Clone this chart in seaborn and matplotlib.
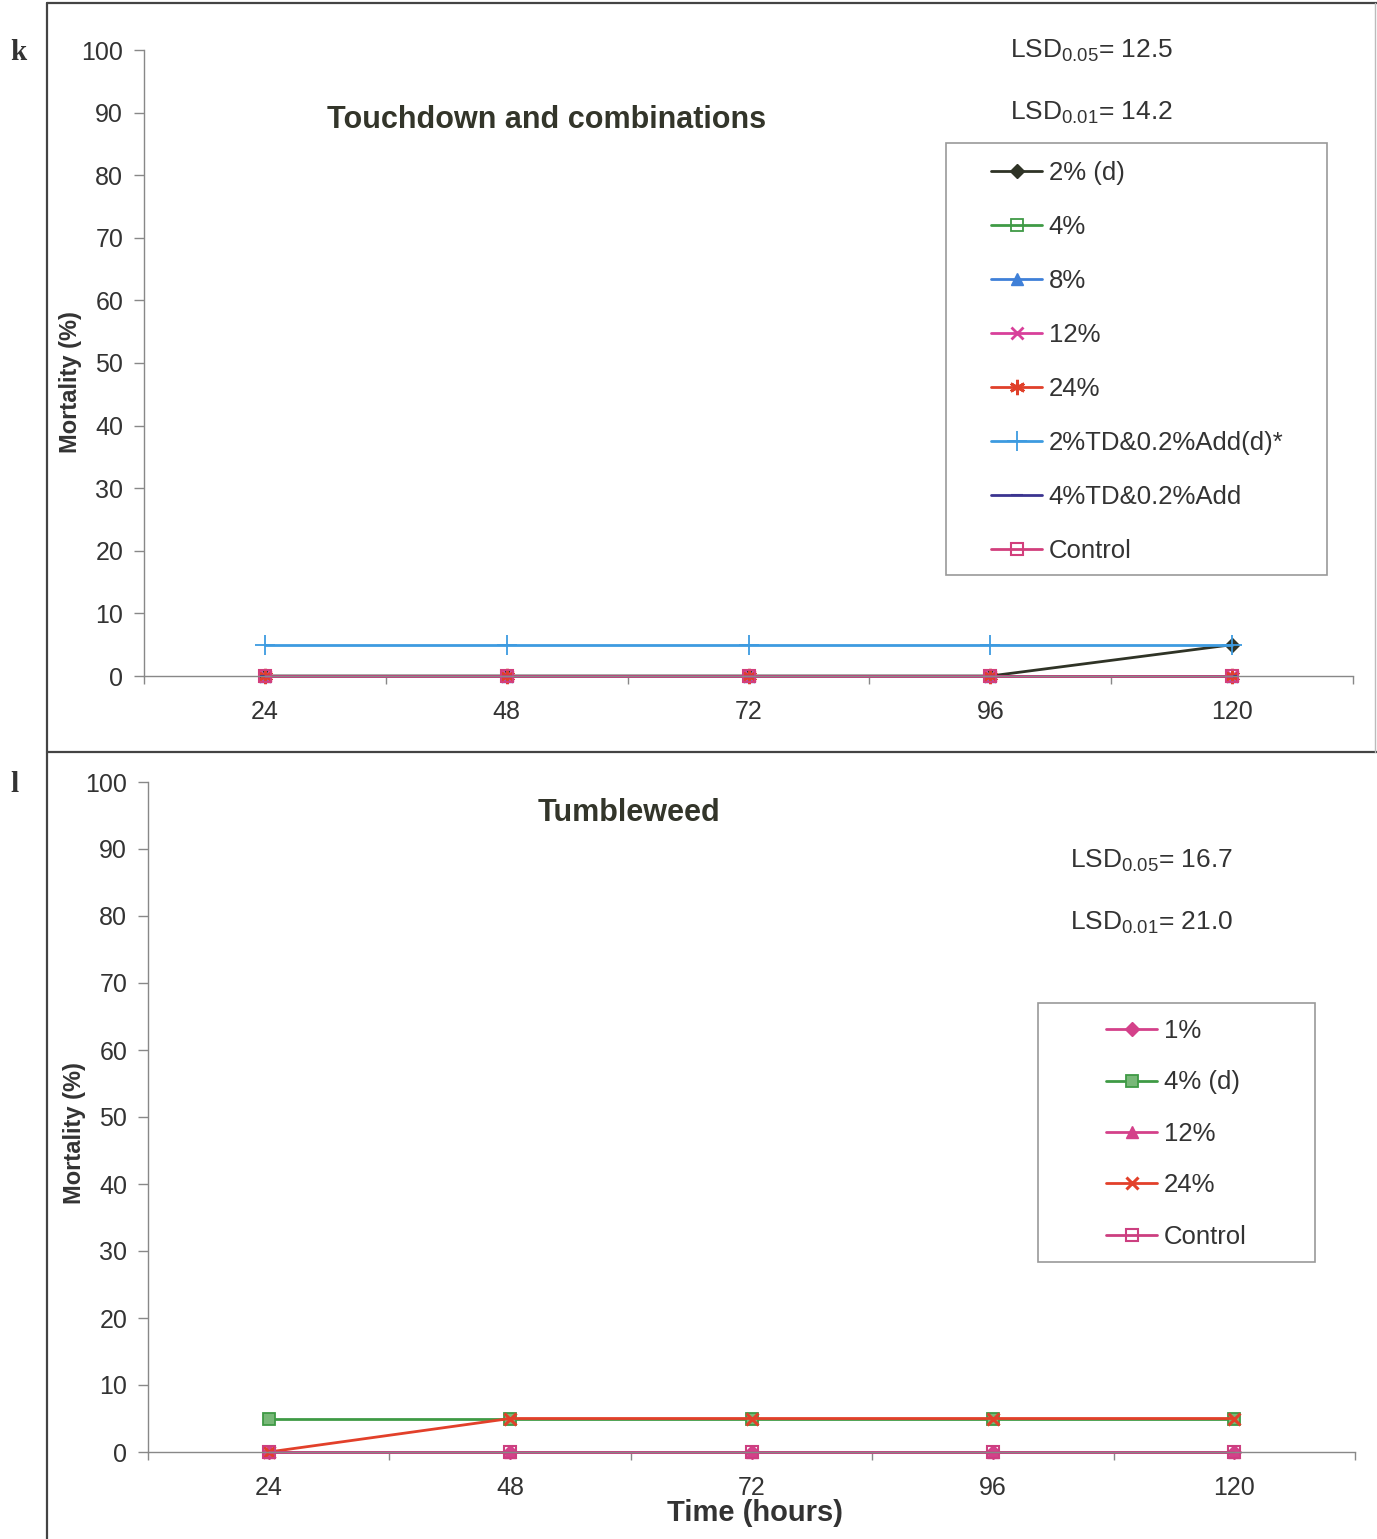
import matplotlib
matplotlib.use("Agg")
import matplotlib.pyplot as plt
from matplotlib.lines import Line2D
from matplotlib.patches import Rectangle
import seaborn as sns

sns.set_style("white")
plt.rcParams['font.family'] = ['Liberation Sans', 'DejaVu Sans']

# ---------------- data ----------------
hours = ["24", "48", "72", "96", "120"]

k_title = "Touchdown and combinations"
k_series = ["2% (d)", "4%", "8%", "12%", "24%",
            "2%TD&0.2%Add(d)*", "4%TD&0.2%Add", "Control"]
k_2pct_d = [0, 0, 0, 0, 5]
k_4pct = [0, 0, 0, 0, 0]
k_8pct = [0, 0, 0, 0, 0]
k_12pct = [0, 0, 0, 0, 0]
k_24pct = [0, 0, 0, 0, 0]
k_2td_add = [5, 5, 5, 5, 5]
k_4td_add = [0, 0, 0, 0, 0]
k_control = [0, 0, 0, 0, 0]
k_lsd = ["12.5", "14.2"]

l_title = "Tumbleweed"
l_series = ["1%", "4% (d)", "12%", "24%", "Control"]
l_1pct = [0, 0, 0, 0, 0]
l_4pct_d = [5, 5, 5, 5, 5]
l_12pct = [0, 0, 0, 0, 0]
l_24pct = [0, 5, 5, 5, 5]
l_control = [0, 0, 0, 0, 0]
l_lsd = ["16.7", "21.0"]

x_label = "Time (hours)"
y_label = "Mortality (%)"

# ---------------- styles ----------------
k_styles = [
    dict(color='#2f3326', marker='D', mfc='#2f3326', mec='#2f3326', ms=7, mew=1),
    dict(color='#3f9a45', marker='s', mfc='none', mec='#3f9a45', ms=8, mew=1.3),
    dict(color='#3f80d8', marker='^', mfc='#3f80d8', mec='#3f80d8', ms=9, mew=1),
    dict(color='#d8409a', marker='x', mfc='#d8409a', mec='#d8409a', ms=9, mew=2),
    dict(color='#e0402a', marker=(6, 2, 0), mfc='#e0402a', mec='#e0402a', ms=11, mew=2),
    dict(color='#3d9be0', marker='+', mfc='#3d9be0', mec='#3d9be0', ms=14, mew=1.3),
    dict(color='#3b3490', marker='_', mfc='#3b3490', mec='#3b3490', ms=8, mew=1.5),
    dict(color='#d23f7c', marker='s', mfc='none', mec='#d23f7c', ms=8, mew=1.5),
]
l_styles = [
    dict(color='#d4418a', marker='D', mfc='#d4418a', mec='#d4418a', ms=7, mew=1),
    dict(color='#3f9a45', marker='s', mfc='#78b878', mec='#3f9a45', ms=8, mew=1.3),
    dict(color='#d4418a', marker='^', mfc='#d4418a', mec='#d4418a', ms=9, mew=1),
    dict(color='#e2402a', marker='x', mfc='#e2402a', mec='#e2402a', ms=9, mew=2.2),
    dict(color='#cc3f80', marker='s', mfc='none', mec='#cc3f80', ms=8, mew=1.5),
]

TXT = '#333333'
TICK_FS = 18
LEG_FS = 18.5
W, H = 1377, 1539
fig = plt.figure(figsize=(W / 100, H / 100), dpi=100)


def fx(px):
    return px / W


def fy(py):
    return 1 - py / H


def draw_panel(ax, series_names, series_vals, styles):
    pos = list(range(len(hours)))
    for name, vals, st in zip(series_names, series_vals, styles):
        sns.lineplot(x=pos, y=vals, ax=ax, label=name, color=st['color'],
                     marker=st['marker'], markerfacecolor=st['mfc'],
                     markeredgecolor=st['mec'], markersize=st['ms'],
                     markeredgewidth=st['mew'], linewidth=2.0,
                     estimator=None, clip_on=False, legend=False)
    ax.set_xlim(-0.5, len(hours) - 0.5)
    ax.set_ylim(0, 100)
    ax.set_yticks(range(0, 101, 10))
    ax.set_xticks(pos)
    ax.set_xticklabels(hours)
    ax.set_xticks([p - 0.5 for p in pos] + [len(hours) - 0.5], minor=True)
    ax.tick_params(axis='x', which='major', length=0, pad=17,
                   labelsize=TICK_FS, labelcolor=TXT)
    ax.tick_params(axis='x', which='minor', length=6, width=1, color='#888888',
                   direction='out', bottom=True)
    ax.tick_params(axis='y', length=7, width=1, color='#888888', direction='out',
                   left=True, labelsize=TICK_FS, labelcolor=TXT, pad=8)
    for s in ['top', 'right']:
        ax.spines[s].set_visible(False)
    for s in ['left', 'bottom']:
        ax.spines[s].set_color('#888888')
        ax.spines[s].set_linewidth(1)
    ax.set_xlabel('')
    ax.set_ylabel('')
    ax.set_facecolor('white')


def lsd_text(x, y, sub, val):
    fig.text(fx(x), fy(y), r"LSD$_{\mathregular{" + sub + "}}$= " + val, ha='left',
             va='center', fontsize=19, color=TXT)


# ---------- panel k ----------
axk = fig.add_axes([fx(144), fy(676), fx(1353) - fx(144), fy(50) - fy(676)])
draw_panel(axk, k_series,
           [k_2pct_d, k_4pct, k_8pct, k_12pct, k_24pct, k_2td_add, k_4td_add, k_control],
           k_styles)
fig.text(fx(70), fy(382), y_label, rotation=90, ha='center', va='center',
         fontsize=17, fontweight='bold', color=TXT)
fig.text(fx(547), fy(120), k_title, ha='center', va='center', fontsize=22,
         fontweight='bold', color='#33352a')
lsd_text(1010, 51, "0.05", k_lsd[0])
lsd_text(1010, 113, "0.01", k_lsd[1])
hk, lk = axk.get_legend_handles_labels()
axk.legend(hk, lk, loc='upper left', bbox_to_anchor=(fx(991), fy(161)),
           bbox_transform=fig.transFigure, frameon=False, fontsize=LEG_FS,
           labelcolor=TXT, handlelength=2.0, handletextpad=0.25,
           labelspacing=1.17, borderpad=0, borderaxespad=0)
fig.patches.append(Rectangle((fx(946), fy(575)), fx(1327) - fx(946), fy(143) - fy(575),
                             transform=fig.transFigure, fill=False,
                             edgecolor='#999999', linewidth=1.2, figure=fig))

# ---------- panel l ----------
axl = fig.add_axes([fx(148), fy(1452), fx(1355) - fx(148), fy(782) - fy(1452)])
draw_panel(axl, l_series,
           [l_1pct, l_4pct_d, l_12pct, l_24pct, l_control], l_styles)
fig.text(fx(74), fy(1133), y_label, rotation=90, ha='center', va='center',
         fontsize=17, fontweight='bold', color=TXT)
fig.text(fx(755), fy(1513), x_label, ha='center', va='center', fontsize=21,
         fontweight='bold', color=TXT)
fig.text(fx(629), fy(813), l_title, ha='center', va='center', fontsize=22,
         fontweight='bold', color='#33352a')
lsd_text(1070, 861, "0.05", l_lsd[0])
lsd_text(1070, 923, "0.01", l_lsd[1])
hl, ll = axl.get_legend_handles_labels()
axl.legend(hl, ll, loc='upper left', bbox_to_anchor=(fx(1106), fy(1019)),
           bbox_transform=fig.transFigure, frameon=False, fontsize=LEG_FS,
           labelcolor=TXT, handlelength=2.0, handletextpad=0.25,
           labelspacing=1.07, borderpad=0, borderaxespad=0)
fig.patches.append(Rectangle((fx(1038), fy(1262)), fx(1315) - fx(1038), fy(1003) - fy(1262),
                             transform=fig.transFigure, fill=False,
                             edgecolor='#999999', linewidth=1.2, figure=fig))

# ---------- outer frame ----------
frame_kw = dict(transform=fig.transFigure, color='#444444', linewidth=1.6)
fig.add_artist(Line2D([fx(47), fx(47)], [fy(3), fy(1539)], **frame_kw))
fig.add_artist(Line2D([fx(47), fx(1377)], [fy(3), fy(3)], **frame_kw))
fig.add_artist(Line2D([fx(47), fx(1377)], [fy(752), fy(752)], **frame_kw))
fig.add_artist(Line2D([fx(1375), fx(1375)], [fy(3), fy(752)],
                      transform=fig.transFigure, color='#bbbbbb', linewidth=1))

# panel letters
fig.text(fx(18), fy(52), 'k', ha='center', va='center', fontsize=21,
         fontweight='bold', family='Liberation Serif', color='#333333')
fig.text(fx(14), fy(785), 'l', ha='center', va='center', fontsize=21,
         fontweight='bold', family='Liberation Serif', color='#333333')

fig.savefig('out.png', dpi=100, facecolor='white')
